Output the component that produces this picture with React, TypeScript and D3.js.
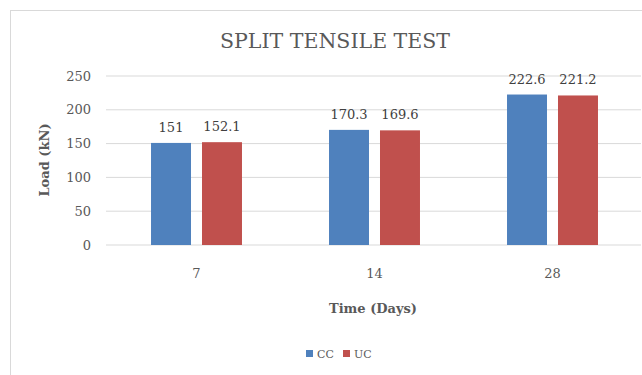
import React from "react";
import * as d3 from "d3";

const categories = ["7", "14", "28"];
const seriesNames = ["CC", "UC"];
const ccValues = [151, 170.3, 222.6];
const ucValues = [152.1, 169.6, 221.2];
const yTicks = [0, 50, 100, 150, 200, 250];

const colors: Record<string, string> = { CC: "#4F81BD", UC: "#C0504D" };
const font = "'DejaVu Serif', serif";

export default function App() {
  const width = 642;
  const height = 375;

  const x = d3
    .scaleBand<string>()
    .domain(categories)
    .range([107.5, 641.5])
    .paddingInner(0.489)
    .paddingOuter(0.2445);
  const xSub = d3
    .scaleBand<string>()
    .domain(seriesNames)
    .range([0, x.bandwidth()])
    .paddingInner(0.2157)
    .paddingOuter(0);
  const y = d3.scaleLinear().domain([0, 250]).range([245, 76]);

  const rows = categories.map((c, i) => ({
    cat: c,
    vals: [
      { s: "CC", v: ccValues[i] },
      { s: "UC", v: ucValues[i] },
    ],
  }));

  return (
    <svg
      width={width}
      height={height}
      style={{ position: "absolute", left: 0, top: 0, background: "#fff" }}
    >
      <rect x={10.5} y={10.5} width={700} height={400} fill="#fff" stroke="#D9D9D9" />
      <text
        x={335}
        y={48}
        textAnchor="middle"
        fontFamily={font}
        fontSize={21}
        textLength={230}
        lengthAdjust="spacingAndGlyphs"
        fill="#595959"
      >
        SPLIT TENSILE TEST
      </text>

      {yTicks.map((t) => (
        <g key={t}>
          <line x1={106} x2={641} y1={y(t)} y2={y(t)} stroke="#D9D9D9" strokeWidth={1} />
          <text
            x={91}
            y={y(t)}
            dy="0.35em"
            textAnchor="end"
            fontFamily={font}
            fontSize={13}
            fill="#595959"
          >
            {t}
          </text>
        </g>
      ))}

      {rows.map((r) => (
        <g key={r.cat} transform={`translate(${x(r.cat)},0)`}>
          {r.vals.map((d) => (
            <g key={d.s}>
              <rect
                x={xSub(d.s)}
                y={y(d.v)}
                width={xSub.bandwidth()}
                height={y(0) - y(d.v)}
                fill={colors[d.s]}
              />
              <text
                x={(xSub(d.s) ?? 0) + xSub.bandwidth() / 2}
                y={y(d.v) - 11}
                textAnchor="middle"
                fontFamily={font}
                fontSize={13}
                fill="#404040"
              >
                {d.v}
              </text>
            </g>
          ))}
          <text
            x={x.bandwidth() / 2}
            y={278}
            textAnchor="middle"
            fontFamily={font}
            fontSize={13}
            fill="#595959"
          >
            {r.cat}
          </text>
        </g>
      ))}

      <text
        transform="translate(49,160) rotate(-90)"
        textAnchor="middle"
        fontFamily={font}
        fontSize={13}
        fontWeight="bold"
        fill="#595959"
      >
        Load (kN)
      </text>
      <text
        x={373}
        y={313}
        textAnchor="middle"
        fontFamily={font}
        fontSize={13}
        fontWeight="bold"
        fill="#595959"
      >
        Time (Days)
      </text>

      {seriesNames.map((s, i) => {
        const lx = 306 + i * 37;
        return (
          <g key={s}>
            <rect x={lx} y={350} width={7} height={7} fill={colors[s]} />
            <text
              x={lx + 11}
              y={358}
              fontFamily={font}
              fontSize={11}
              fill="#595959"
            >
              {s}
            </text>
          </g>
        );
      })}
    </svg>
  );
}
